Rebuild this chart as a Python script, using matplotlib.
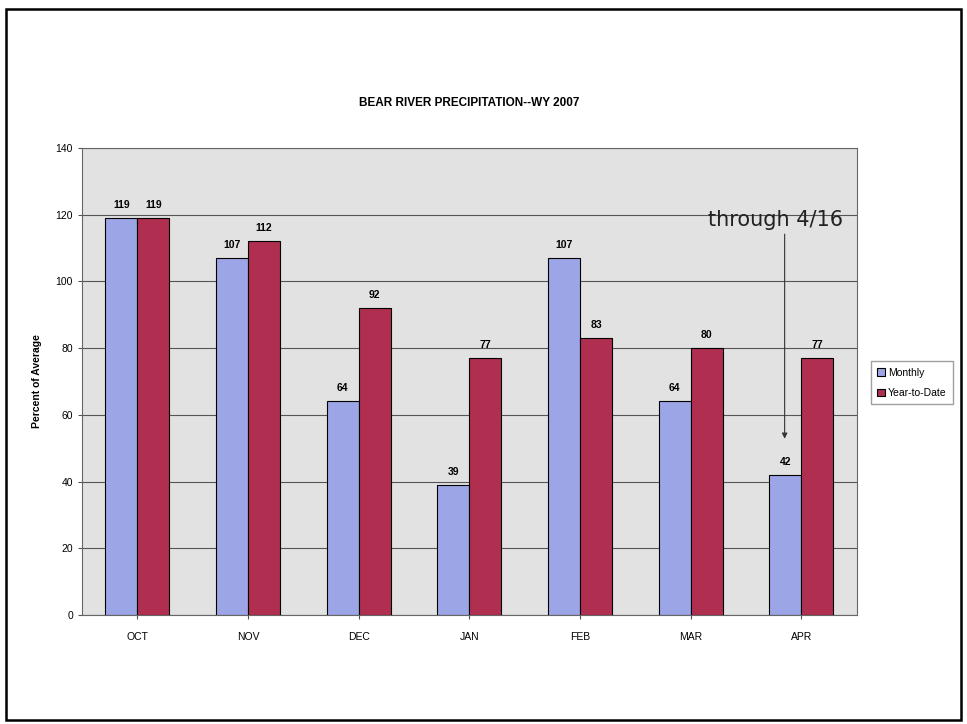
import numpy as np
import matplotlib
matplotlib.use("Agg")
import matplotlib.pyplot as plt
from matplotlib.patches import Rectangle

plt.rcParams['font.family'] = ['Liberation Sans', 'DejaVu Sans']

# data
months = ['OCT', 'NOV', 'DEC', 'JAN', 'FEB', 'MAR', 'APR']
monthly = [119, 107, 64, 39, 107, 64, 42]
year_to_date = [119, 112, 92, 77, 83, 80, 77]
yticks = [0, 20, 40, 60, 80, 100, 120, 140]

blue = '#9ca6e6'
red = '#b02f50'

fig = plt.figure(figsize=(9.67, 7.24), dpi=100)
ax = fig.add_axes([0.0848, 0.1506, 0.801, 0.645])

x = np.arange(len(months))
w = 0.29

b1 = ax.bar(x - w / 2, monthly, w, color=blue, edgecolor='black', linewidth=0.8, label='Monthly', zorder=3)
b2 = ax.bar(x + w / 2, year_to_date, w, color=red, edgecolor='black', linewidth=0.8, label='Year-to-Date', zorder=3)

# value labels on top of the bars
for bars in (b1, b2):
    for r in bars:
        ax.text(r.get_x() + r.get_width() / 2, r.get_height() + 2.5, f"{int(r.get_height())}",
                ha='center', va='bottom', fontsize=7.5, fontweight='bold', zorder=4)

ax.set_xlim(-0.5, len(months) - 0.5)
ax.set_ylim(0, 140)
ax.set_yticks(yticks)
ax.set_xticks(x)
ax.set_xticklabels(months)
ax.tick_params(axis='both', labelsize=7.5, length=3, color='#555555')
ax.tick_params(axis='x', pad=9)
ax.set_facecolor('#e2e2e2')
ax.grid(axis='y', color='#555555', linewidth=0.8, zorder=0)
for s in ax.spines.values():
    s.set_color('#666666')
    s.set_linewidth(0.8)

ax.set_ylabel('Percent of Average', fontsize=7.5, fontweight='bold', labelpad=10)
ax.set_title('BEAR RIVER PRECIPITATION--WY 2007', fontsize=8.5, fontweight='bold', pad=30)

# note with arrow for April
ax.annotate('', xy=(6 - 0.15, 52), xytext=(6 - 0.15, 115),
            arrowprops=dict(arrowstyle='-|>', color='#333333', lw=0.8, mutation_scale=8), zorder=4)
ax.text(5.77, 115.5, 'through 4/16', fontsize=15, ha='center', va='bottom',
        family=['DejaVu Sans'], color='#222222', zorder=4)

ax.legend(loc='center left', bbox_to_anchor=(1.012, 0.497), fontsize=7.5, frameon=True,
          fancybox=False, edgecolor='#888888', handlelength=0.7, handleheight=0.7,
          handletextpad=0.3, borderpad=0.6, labelspacing=1.0)

# outer frame
fig.patches.append(Rectangle((0.006, 0.006), 0.988, 0.982, transform=fig.transFigure,
                             fill=False, edgecolor='black', linewidth=1.8))

fig.savefig('out.png', dpi=100)
